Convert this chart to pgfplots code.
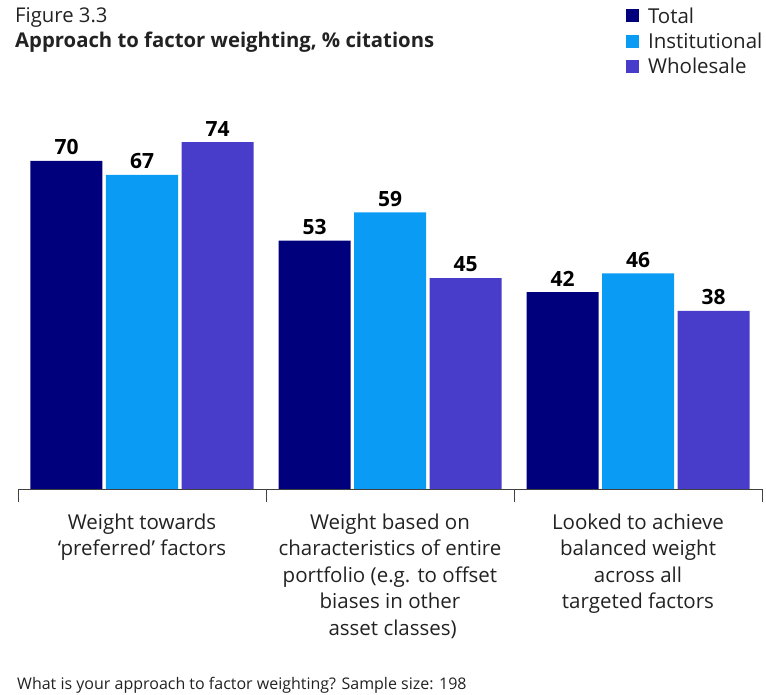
\documentclass[border=0pt]{standalone}
\usepackage{pgfplots}
\pgfplotsset{compat=1.18}
\usepackage{fontspec}
\setmainfont{Open Sans}
\definecolor{cTotal}{HTML}{00007D}
\definecolor{cInst}{HTML}{0A9BF5}
\definecolor{cWhole}{HTML}{483DCB}
\definecolor{txt}{HTML}{222222}
\begin{document}
\begin{tikzpicture}[x=1pt,y=1pt]
\path[use as bounding box] (0,0) rectangle (766,695);
\node[anchor=base west, text=txt, inner sep=0] at (15,672) {\fontsize{20.3}{22}\selectfont Figure 3.3};
\node[anchor=base west, text=txt, inner sep=0] at (15,647) {\fontsize{20.3}{22}\selectfont\bfseries Approach to factor weighting, \% citations};
\node[anchor=base west, text=txt, inner sep=0] at (17,5) {\fontsize{16}{18}\selectfont What is your approach to factor weighting? Sample size: 198};
\begin{axis}[
  at={(18pt,206pt)}, anchor=south west,
  scale only axis, width=744pt, height=375pt,
  xmin=-0.5, xmax=2.5, ymin=0, ymax=80,
  axis x line=bottom, axis y line=none,
  axis line style={-, draw=black!75, line width=0.8pt},
  ybar=3.5pt, bar width=72pt,
  /pgf/number format/assume math mode=true,
  xtick={0,1,2},
  xticklabels={{Weight towards\\`preferred' factors},
               {Weight based on\\characteristics of entire\\portfolio (e.g. to offset\\biases in other\\\ asset classes)},
               {Looked to achieve\\balanced weight\\across all\\targeted factors}},
  xticklabel style={align=center, font=\fontsize{20.5}{26.5}\selectfont, text=txt, yshift=-21pt},
  major tick length=0pt,
  minor xtick={-0.5,0.5,1.5,2.5},
  minor tick length=13pt,
  tick align=outside,
  minor tick style={draw=black!75, line width=0.8pt},
  ytick=\empty,
  nodes near coords={\bfseries\pgfmathprintnumber{\pgfplotspointmeta}},
  every node near coord/.append style={font=\fontsize{21}{22}\selectfont\bfseries, text=black, yshift=2.5pt},
  legend style={draw=none, fill=none, at={(axis description cs:0.817,1.29)}, anchor=north west,
    inner sep=0pt, font=\fontsize{20.5}{22}\selectfont, text=txt, row sep=4pt,
    /tikz/every odd column/.append style={column sep=7pt}},
  legend cell align=left,
  legend image code/.code={\fill[#1] (0pt,-6.5pt) rectangle (13pt,6.5pt);},
]
\addplot[fill=cTotal, draw=none] coordinates {(0,70) (1,53) (2,42)};
\addplot[fill=cInst, draw=none] coordinates {(0,67) (1,59) (2,46)};
\addplot[fill=cWhole, draw=none] coordinates {(0,74) (1,45) (2,38)};
\legend{Total, Institutional, Wholesale}
\end{axis}
\end{tikzpicture}
\end{document}
